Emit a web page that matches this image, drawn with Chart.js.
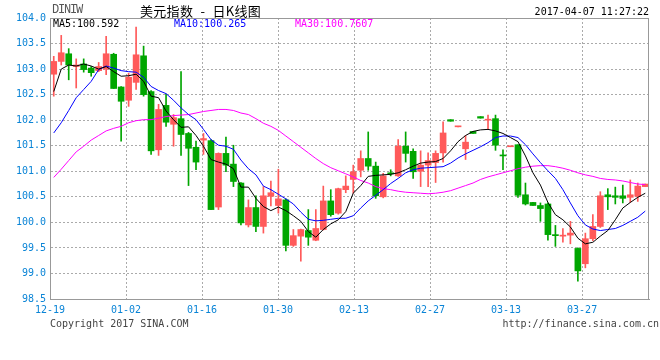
<!DOCTYPE html>
<html>
<head>
<meta charset="utf-8">
<script src="https://cdn.jsdelivr.net/npm/chart.js@4.4.1/dist/chart.umd.min.js"></script>
<style>
  html, body { margin: 0; padding: 0; background: #fff; }
  #wrap { position: relative; width: 660px; height: 360px; overflow: hidden; }
  canvas { position: absolute; left: 0; top: 0; }
  .t { position: absolute; white-space: pre; line-height: 12px; font-family: "DejaVu Sans Mono", monospace; font-size: 10px; }
</style>
</head>
<body>
<div id="wrap">
  <canvas id="c" width="660" height="360"></canvas>
  <div class="t" id="code" style="left:52px;top:4px;font-family:'Liberation Mono',monospace;font-size:12px;letter-spacing:-1.2px;color:#555;"></div>
  <div class="t" id="title" style="left:140px;top:3px;line-height:15px;font-family:'Noto Sans CJK SC',sans-serif;font-size:13px;letter-spacing:0.3px;word-spacing:4px;color:#000;"></div>
  <div class="t" id="stamp" style="right:11px;top:6px;color:#000;"></div>
  <div class="t" id="ma5t" style="left:53px;top:18px;color:#000;"></div>
  <div class="t" id="ma10t" style="left:174px;top:18px;color:#0000ff;"></div>
  <div class="t" id="ma30t" style="left:295px;top:18px;color:#ff00ff;"></div>
  <div class="t" id="copy" style="left:50px;top:318px;color:#444;"></div>
  <div class="t" id="url" style="right:1px;top:318px;color:#444;"></div>
</div>
<script>
// ---------- DATA ----------
const categories = [
  '12-19','12-20','12-21','12-22','12-23','12-26','12-27','12-28','12-29','12-30',
  '01-02','01-03','01-04','01-05','01-06','01-09','01-10','01-11','01-12','01-13',
  '01-16','01-17','01-18','01-19','01-20','01-23','01-24','01-25','01-26','01-27',
  '01-30','01-31','02-01','02-02','02-03','02-06','02-07','02-08','02-09','02-10',
  '02-13','02-14','02-15','02-16','02-17','02-20','02-21','02-22','02-23','02-24',
  '02-27','02-28','03-01','03-02','03-03','03-06','03-07','03-08','03-09','03-10',
  '03-13','03-14','03-15','03-16','03-17','03-20','03-21','03-22','03-23','03-24',
  '03-27','03-28','03-29','03-30','03-31','04-03','04-04','04-05','04-06','04-07'
];
const tickLabels = ['12-19','01-02','01-16','01-30','02-13','02-27','03-13','03-27'];
const yTicks = [98.5, 99.0, 99.5, 100.0, 100.5, 101.0, 101.5, 102.0, 102.5, 103.0, 103.5, 104.0];

const opens = [
  102.90,103.15,103.30,103.05,103.10,103.02,102.97,103.00,103.29,102.65,
  102.39,102.74,103.26,102.56,101.42,102.29,101.92,102.03,101.74,101.47,
  101.61,101.60,100.30,101.35,101.14,100.77, 99.95,100.29, 99.92,100.51,
  100.33,100.44, 99.55, 99.73, 99.84, 99.65, 99.86,100.42,100.18,100.64,
  100.84,101.02,101.25,101.10,100.50,100.97,100.91,101.49,101.39,101.00,
  101.12,101.17,101.36,102.01,101.87,101.44,101.78,102.07,102.00,102.03,
  101.32,101.48,101.52,100.54,100.39,100.33,100.36, 99.76, 99.73, 99.75,
   99.49, 99.19, 99.68, 99.92,100.54,100.52,100.52,100.49,100.51,100.70
];
const highs = [
  103.25,103.66,103.40,103.20,103.20,103.05,103.13,103.64,103.31,102.66,
  102.92,103.82,103.45,102.58,102.31,102.51,102.11,102.95,101.76,101.59,
  101.74,101.62,101.36,101.67,101.51,100.78,100.44,100.52,100.70,100.81,
  101.04,100.46, 99.86, 99.87,100.25,100.25,100.71,100.64,100.67,100.91,
  101.12,101.40,101.77,101.18,100.96,101.03,101.62,101.77,101.44,101.40,
  101.36,101.40,101.97,102.01,101.88,101.70,101.78,102.07,102.10,102.10,
  101.42,101.49,101.52,100.77,100.39,100.38,100.38, 99.94, 99.88,100.02,
   99.50, 99.79,100.15,100.60,100.66,100.69,100.73,100.83,100.77,100.75
];
const lows = [
  102.47,103.08,102.79,102.63,102.94,102.86,102.95,102.89,102.62,101.59,
  102.27,102.60,102.47,101.33,101.31,101.88,101.49,101.31,100.72,101.03,
  101.33,100.25,100.25,100.99,100.70, 99.95, 99.91, 99.82, 99.79,100.32,
  100.18, 99.44, 99.53, 99.24, 99.55, 99.64, 99.85,100.12,100.16,100.58,
  100.57,100.89,101.02,100.47,100.48,100.91,100.90,101.18,100.86,100.70,
  100.70,100.78,101.18,101.98,101.87,101.23,101.74,102.04,101.82,101.41,
  101.03,101.48,100.49,100.34,100.33,100.02, 99.65, 99.53, 99.61, 99.58,
   98.85, 99.11, 99.64, 99.90,100.25,100.36,100.38,100.39,100.41,100.70
];
const closes = [
  103.15,103.32,103.08,103.08,102.99,102.93,103.05,103.30,102.62,102.37,
  102.84,103.28,102.50,101.40,102.21,101.96,102.05,101.72,101.45,101.18,
  101.64,100.25,101.35,101.12,100.80, 99.99,100.29, 99.92,100.52,100.58,
  100.46, 99.55, 99.74, 99.86, 99.71, 99.88,100.42,100.15,100.66,100.71,
  100.99,101.25,101.10,100.52,100.91,100.95,101.49,101.35,100.99,101.12,
  101.21,101.35,101.75,101.98,101.88,101.57,101.74,102.04,102.01,101.51,
  101.30,101.49,100.53,100.36,100.33,100.27, 99.76, 99.74, 99.75, 99.79,
   99.05, 99.68, 99.92,100.52,100.50,100.49,100.47,100.54,100.71,100.75
];
const ma5 = [
  102.56,103.00,103.08,103.06,103.10,103.06,103.00,103.05,102.95,102.86,
  102.87,102.90,102.76,102.47,102.44,102.18,102.01,101.86,101.87,101.70,
  101.49,101.23,101.18,101.14,101.05,100.69,100.69,100.47,100.31,100.23,
  100.30,100.23,100.13,100.02, 99.82, 99.71, 99.86, 99.97,100.05,100.21,
  100.57,100.72,100.90,100.92,100.93,100.94,100.97,101.03,101.10,101.16,
  101.18,101.19,101.25,101.40,101.58,101.70,101.78,101.81,101.82,101.79,
  101.74,101.66,101.58,101.30,100.97,100.73,100.39,100.15,100.05, 99.91,
   99.69, 99.58, 99.61, 99.73, 99.84,100.05,100.28,100.39,100.49,100.57
];
const ma10 = [
  101.75,101.95,102.19,102.44,102.60,102.76,102.99,103.06,103.02,102.97,
  102.95,102.94,102.84,102.66,102.58,102.52,102.39,102.24,102.11,102.01,
  101.82,101.62,101.51,101.49,101.43,101.22,101.05,100.93,100.71,100.64,
  100.55,100.46,100.36,100.20,100.06,100.03,100.04,100.06,100.08,100.08,
  100.13,100.28,100.42,100.53,100.64,100.76,100.86,100.97,101.03,101.06,
  101.07,101.08,101.09,101.16,101.26,101.34,101.41,101.48,101.56,101.66,
  101.69,101.69,101.66,101.52,101.34,101.17,101.01,100.86,100.64,100.38,
  100.13, 99.95, 99.87, 99.84, 99.86, 99.88, 99.94,100.02,100.10,100.22
];
const ma30 = [
  100.88,101.04,101.21,101.38,101.49,101.61,101.70,101.79,101.84,101.88,
  101.95,101.99,102.01,102.01,102.04,102.07,102.09,102.10,102.11,102.14,
  102.17,102.19,102.21,102.21,102.19,102.14,102.11,102.03,101.94,101.88,
  101.80,101.69,101.58,101.47,101.36,101.25,101.15,101.07,101.01,100.95,
  100.89,100.82,100.77,100.70,100.66,100.64,100.61,100.59,100.58,100.57,
  100.56,100.57,100.59,100.62,100.67,100.72,100.77,100.84,100.89,100.93,
  100.97,101.01,101.05,101.08,101.10,101.11,101.11,101.09,101.06,101.02,
  100.97,100.93,100.90,100.86,100.84,100.83,100.81,100.78,100.75,100.74
];
const legendValues = { ma5: '100.592', ma10: '100.265', ma30: '100.7607' };

// ---------- TEXT ----------
document.getElementById('code').textContent = 'DINIW';
document.getElementById('title').textContent = '美元指数 - 日K线图';
document.getElementById('stamp').textContent = '2017-04-07 11:27:22';
document.getElementById('ma5t').textContent = 'MA5:' + legendValues.ma5;
document.getElementById('ma10t').textContent = 'MA10:' + legendValues.ma10;
document.getElementById('ma30t').textContent = 'MA30:' + legendValues.ma30;
document.getElementById('copy').textContent = 'Copyright 2017 SINA.COM';
document.getElementById('url').textContent = 'http://finance.sina.com.cn';

// ---------- STYLE / LAYOUT ----------
const RED = '#ff5a5a', GREEN = '#00a600';
const GRID = '#aaaaaa', AXIS = '#999999', TICK = '#0a84d6';
const LABEL_SPAN = 78.8; // Sina spaces date labels 76px apart over the 599px plot
const upColor = i => closes[i] >= opens[i] ? RED : GREEN;
const mono = { family: 'DejaVu Sans Mono', size: 10 };

const boxPlugin = {
  id: 'box',
  afterDraw(chart) {
    const { ctx, chartArea: a } = chart;
    ctx.save();
    ctx.strokeStyle = AXIS;
    ctx.lineWidth = 1;
    ctx.strokeRect(Math.round(a.left) + 0.5, Math.round(a.top) + 0.5,
                   Math.round(a.right - a.left) - 1, Math.round(a.bottom - a.top));
    ctx.restore();
  }
};

new Chart(document.getElementById('c'), {
  type: 'bar',
  data: {
    labels: categories,
    datasets: [
      { type: 'line', label: 'MA5', data: ma5, borderColor: '#000000', borderWidth: 1, pointRadius: 0, tension: 0, order: 0 },
      { type: 'line', label: 'MA10', data: ma10, borderColor: '#0000ff', borderWidth: 1, pointRadius: 0, tension: 0, order: 0 },
      { type: 'line', label: 'MA30', data: ma30, borderColor: '#ff00ff', borderWidth: 1, pointRadius: 0, tension: 0, order: 0 },
      { label: 'body', data: opens.map((o, i) => [o, closes[i]]),
        backgroundColor: opens.map((o, i) => upColor(i)),
        barThickness: 6, grouped: false, minBarLength: 1, borderWidth: 0, order: 1 },
      { label: 'wick', data: lows.map((l, i) => [l, highs[i]]),
        backgroundColor: lows.map((l, i) => upColor(i)),
        barThickness: 1, grouped: false, borderWidth: 0, order: 2 }
    ]
  },
  options: {
    responsive: false,
    animation: false,
    devicePixelRatio: 1,
    layout: { padding: { top: 18, right: 11, left: 0, bottom: 0 } },
    plugins: { legend: { display: false }, tooltip: { enabled: false }, title: { display: false } },
    scales: {
      x: { type: 'category', display: false, offset: true },
      xg: {
        type: 'linear', position: 'bottom', min: 0, max: LABEL_SPAN, offset: false,
        afterBuildTicks: s => { s.ticks = tickLabels.map(l => ({ value: categories.indexOf(l) })); },
        afterFit: s => { s.height = 61; },
        ticks: { autoSkip: false, maxRotation: 0, color: TICK, font: mono, padding: 5,
                 callback: v => categories[v] },
        grid: { color: GRID, drawTicks: false, lineWidth: 1, offset: false },
        border: { color: AXIS, dash: [2, 2] }
      },
      y: {
        type: 'linear', position: 'left', min: 98.5, max: 104.0,
        afterBuildTicks: s => { s.ticks = yTicks.map(v => ({ value: v })); },
        afterFit: s => { s.width = 50; },
        ticks: { color: TICK, font: mono, padding: 4, callback: v => Number(v).toFixed(1) },
        grid: { color: GRID, drawTicks: false, lineWidth: 1 },
        border: { color: AXIS, dash: [2, 2] }
      }
    }
  },
  plugins: [boxPlugin]
});
</script>
</body>
</html>
